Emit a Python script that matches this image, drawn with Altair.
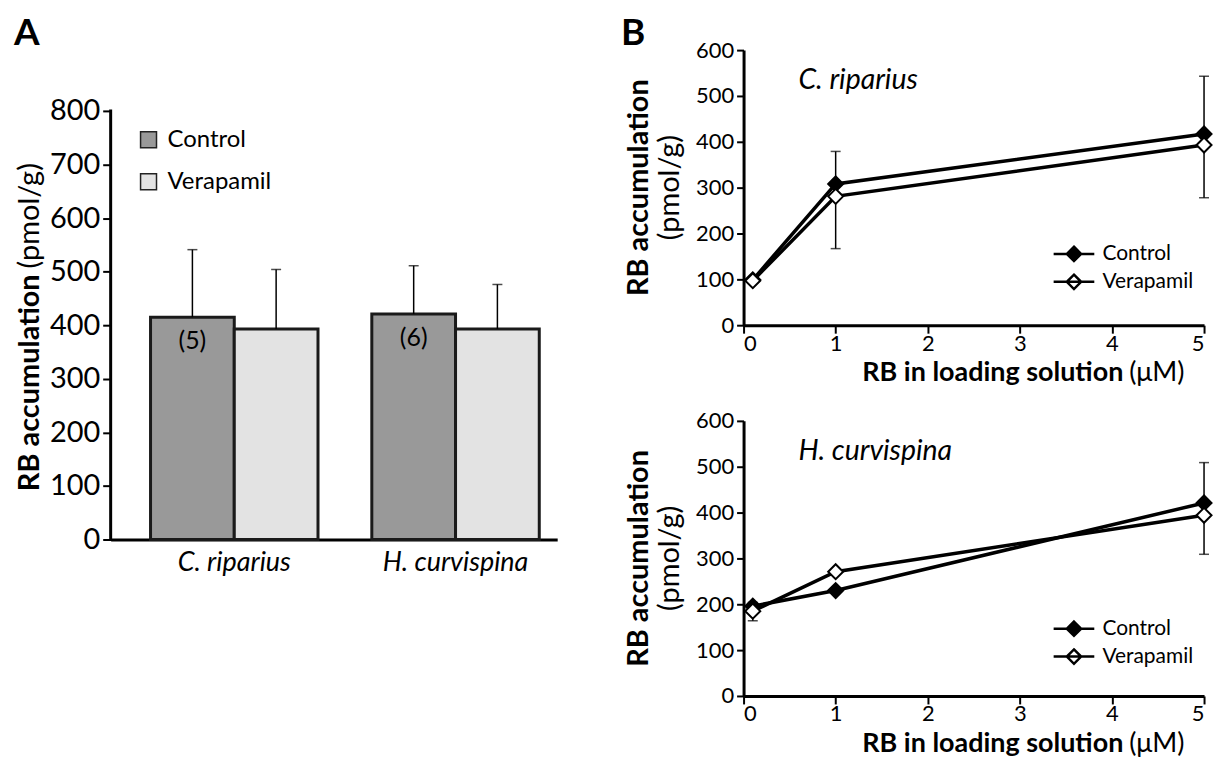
import altair as alt
import pandas as pd

FONT = "Lato"

# ---------------- data ----------------
species = ["C. riparius", "H. curvispina"]
treatments = ["Control", "Verapamil"]
bar_control = [415, 421]
bar_verapamil = [393, 393]
bar_control_sd_top = [541, 511]
bar_verapamil_sd_top = [504, 476]
n_labels = ["(5)", "(6)"]

conc = [0.1, 1, 5]
cr_control = [99, 308, 417]
cr_verapamil = [97, 281, 393]
cr_err_x = [1, 5]
cr_err_lo = [167, 278]
cr_err_hi = [379, 543]

hc_control = [196, 230, 421]
hc_verapamil = [185, 271, 394]
hc_err_x = [0.1, 5]
hc_err_lo = [164, 309]
hc_err_hi = [204, 509]

yA_ticks = list(range(0, 801, 100))
yB_ticks = list(range(0, 601, 100))
xB_ticks = [0, 1, 2, 3, 4, 5]

one = pd.DataFrame({"a": [0]})
NO_VIEW = alt.ViewBackground(stroke="transparent", strokeWidth=0)

# ---------------- panel A ----------------
A_W, A_H = 448, 491
A_TOP = 913.5

bars_df = pd.DataFrame({
    "species": species * 2,
    "treatment": ["Control"] * 2 + ["Verapamil"] * 2,
    "value": bar_control + bar_verapamil,
    "top": bar_control_sd_top + bar_verapamil_sd_top,
})
n_df = pd.DataFrame({"species": species, "treatment": ["Control"] * 2,
                     "value": bar_control, "label": n_labels})

xA = alt.X("species:N", sort=species,
           scale=alt.Scale(domain=species, paddingInner=0.2432, paddingOuter=0.1306, align=0.69),
           axis=alt.Axis(title=None, labelAngle=0, labelFont=FONT, labelFontSize=27,
                         labelFontStyle="italic", labelColor="black", ticks=False, grid=False,
                         domainColor="black", domainWidth=3, labelPadding=10))
xoffA = alt.XOffset("treatment:N", sort=treatments,
                    scale=alt.Scale(domain=treatments, paddingInner=0, paddingOuter=0))


def yA(field):
    return alt.Y(field, scale=alt.Scale(domain=[0, A_TOP], nice=False, zero=True),
                 axis=alt.Axis(title=None, values=yA_ticks, domain=False, grid=False,
                               tickColor="black", tickWidth=2, tickSize=8,
                               labelFont=FONT, labelFontSize=29, labelColor="black",
                               labelPadding=3))


axisA = alt.Chart(one).mark_rule(color="black", strokeWidth=3, strokeCap="square").encode(
    x=alt.value(0), y=alt.datum(0), y2=alt.datum(800))

bars = alt.Chart(bars_df).mark_bar(stroke="#1a1a1a", strokeWidth=3).encode(
    x=xA, xOffset=xoffA, y=yA("value:Q"),
    fill=alt.Fill("treatment:N", sort=treatments,
                  scale=alt.Scale(domain=treatments, range=["#999999", "#e3e3e3"]),
                  legend=alt.Legend(title=None, orient="none", legendX=26, legendY=78,
                                    symbolType="square", symbolSize=256,
                                    symbolStrokeColor="#222222", symbolStrokeWidth=1.5,
                                    labelFont=FONT, labelFontSize=24, labelColor="black",
                                    rowPadding=18, labelOffset=7, padding=0)))

errA = alt.Chart(bars_df).mark_rule(color="black", strokeWidth=1.5).encode(
    x=xA, xOffset=xoffA, y=yA("value:Q"), y2="top:Q")
capA = alt.Chart(bars_df).mark_tick(color="black", thickness=1.5, size=10,
                                    orient="horizontal").encode(
    x=xA, xOffset=xoffA, y=yA("top:Q"))
nlab = alt.Chart(n_df).mark_text(font=FONT, fontSize=25, baseline="middle", dy=24,
                                 color="black").encode(
    x=xA, xOffset=xoffA, y=yA("value:Q"), text="label:N")

titleA_b = alt.Chart(one).mark_text(text="RB accumulation", font=FONT, fontSize=29,
                                    fontWeight="bold", angle=270, align="right",
                                    baseline="middle", color="black").encode(
    x=alt.value(-81), y=alt.value(225))
titleA_n = alt.Chart(one).mark_text(text="(pmol/g)", font=FONT, fontSize=29,
                                    angle=270, align="left", baseline="middle",
                                    color="black").encode(
    x=alt.value(-81), y=alt.value(219))
letterA = alt.Chart(one).mark_text(text="A", font=FONT, fontSize=37, fontWeight="bold",
                                   align="left", baseline="alphabetic", color="black").encode(
    x=alt.value(-97), y=alt.value(-5))

panelA = alt.layer(axisA, bars, errA, capA, nlab, titleA_b, titleA_n, letterA).properties(
    width=A_W, height=A_H, view=NO_VIEW)

# ---------------- panel B ----------------
B_W, B_H = 462, 276
LEG_SYM = "M-1.7,0L1.7,0M0,-0.6L0.6,0L0,0.6L-0.6,0Z"


def panel_b(ctrl, vera, ex, elo, ehi, sp_name, letter, leg_y):
    df = pd.DataFrame({"conc": conc * 2, "value": ctrl + vera,
                       "treatment": ["Control"] * 3 + ["Verapamil"] * 3})
    edf = pd.DataFrame({"conc": ex, "lo": elo, "hi": ehi})
    xB = alt.X("conc:Q", scale=alt.Scale(domain=[0, 5], nice=False),
               axis=alt.Axis(title=None, values=xB_ticks, grid=False, domainColor="black",
                             domainWidth=3, tickColor="black", tickWidth=2, tickSize=8,
                             labelFont=FONT, labelFontSize=22, labelColor="black",
                             labelPadding=0))

    def yB(field):
        return alt.Y(field, scale=alt.Scale(domain=[0, 600], nice=False),
                     axis=alt.Axis(title=None, values=yB_ticks, grid=False,
                                   domainColor="black", domainWidth=3, tickColor="black",
                                   tickWidth=2, tickSize=7, labelFont=FONT,
                                   labelFontSize=22, labelColor="black", labelPadding=3))

    lines = alt.Chart(df).mark_line(color="black", strokeWidth=3.5).encode(
        x=xB, y=yB("value:Q"), detail="treatment:N")
    err = alt.Chart(edf).mark_rule(color="black", strokeWidth=1.5).encode(
        x=xB, y=yB("lo:Q"), y2="hi:Q")
    cap_lo = alt.Chart(edf).mark_tick(color="black", thickness=1.5, size=10,
                                      orient="horizontal").encode(x=xB, y=yB("lo:Q"))
    cap_hi = alt.Chart(edf).mark_tick(color="black", thickness=1.5, size=10,
                                      orient="horizontal").encode(x=xB, y=yB("hi:Q"))
    pts = alt.Chart(df).mark_point(shape="diamond", filled=True, size=225, stroke="black",
                                   strokeWidth=2, opacity=1).encode(
        x=xB, y=yB("value:Q"),
        fill=alt.Fill("treatment:N", sort=treatments,
                      scale=alt.Scale(domain=treatments, range=["black", "white"]),
                      legend=alt.Legend(title=None, orient="none", legendX=318, legendY=leg_y,
                                        symbolType=LEG_SYM, symbolSize=576,
                                        symbolStrokeColor="black", symbolStrokeWidth=2.5,
                                        labelFont=FONT, labelFontSize=21, labelColor="black",
                                        labelOffset=15, rowPadding=2, padding=0)))
    sp = alt.Chart(one).mark_text(text=sp_name, font=FONT, fontSize=28.5, fontStyle="italic",
                                  align="left", baseline="middle", color="black").encode(
        x=alt.value(55), y=alt.value(30))
    yt_b = alt.Chart(one).mark_text(text="RB accumulation", font=FONT, fontSize=29,
                                    fontWeight="bold", angle=270, align="center",
                                    baseline="middle", color="black").encode(
        x=alt.value(-105), y=alt.value(138))
    yt_n = alt.Chart(one).mark_text(text="(pmol/g)", font=FONT, fontSize=29, angle=270,
                                    align="center", baseline="middle", color="black").encode(
        x=alt.value(-74), y=alt.value(138))
    xt_b = alt.Chart(one).mark_text(text="RB in loading solution", font=FONT, fontSize=27,
                                    fontWeight="bold", align="right", baseline="middle",
                                    color="black").encode(x=alt.value(381), y=alt.value(48 + B_H))
    xt_n = alt.Chart(one).mark_text(text="(\u03bcM)", font=FONT, fontSize=27, align="left",
                                    baseline="middle", color="black").encode(
        x=alt.value(387), y=alt.value(48 + B_H))
    layers = [lines, err, cap_lo, cap_hi, pts, sp, yt_b, yt_n, xt_b, xt_n]
    if letter:
        layers.append(alt.Chart(one).mark_text(text=letter, font=FONT, fontSize=37,
                                               fontWeight="bold", align="left",
                                               baseline="alphabetic", color="black").encode(
            x=alt.value(-123), y=alt.value(-5)))
    return alt.layer(*layers).properties(width=B_W, height=B_H, view=NO_VIEW)


B1 = panel_b(cr_control, cr_verapamil, cr_err_x, cr_err_lo, cr_err_hi, "C. riparius", "B", 191)
B2 = panel_b(hc_control, hc_verapamil, hc_err_x, hc_err_lo, hc_err_hi, "H. curvispina", None, 195)

right = alt.vconcat(B1, B2, spacing=24).resolve_scale(fill="independent").resolve_legend(
    fill="independent")

chart = alt.hconcat(panelA, right, spacing=64).resolve_scale(
    fill="independent").resolve_legend(fill="independent").properties(
    padding={"left": 6, "top": 6, "right": 0, "bottom": 0}).configure_view(
    strokeWidth=0, stroke="transparent").configure_axis(grid=False).configure(font=FONT)

chart.save("out.html", embed_options={"renderer": "svg", "actions": False})
